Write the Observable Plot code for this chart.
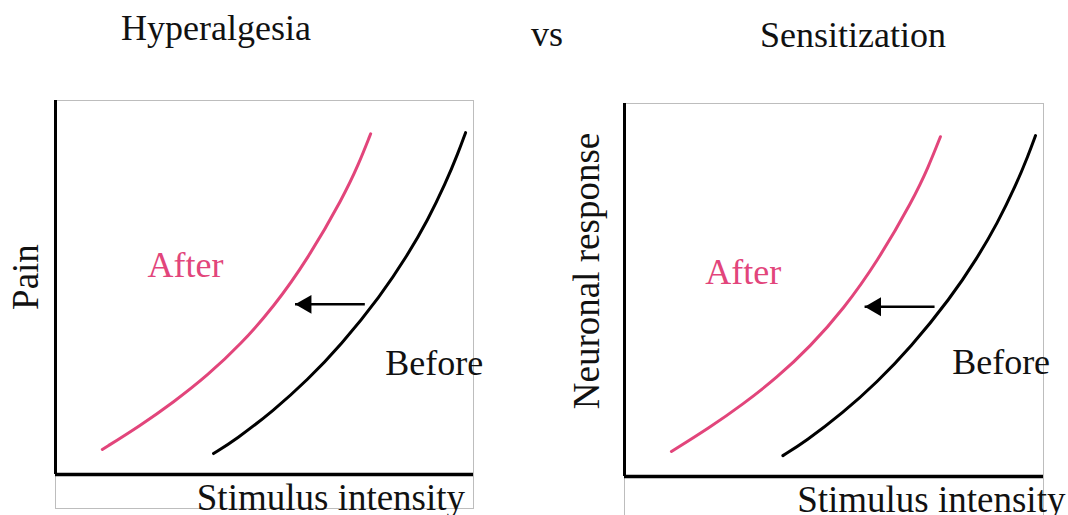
<!DOCTYPE html>
<html>
<head>
<meta charset="utf-8">
<script src="https://cdn.jsdelivr.net/npm/d3@7"></script>
<script src="https://cdn.jsdelivr.net/npm/@observablehq/plot@0.6"></script>
<style>
  html, body { margin: 0; padding: 0; background: #fff; overflow: hidden; }
  #root { position: relative; width: 1068px; height: 515px; overflow: hidden; background: #fff;
          font-family: "Liberation Serif", "Times New Roman", serif; }
  .title { position: absolute; font-size: 36px; line-height: 1; white-space: nowrap; color: #111; }
  .panel { position: absolute; }
</style>
</head>
<body>
<div id="root"></div>
<script>
// ---- data ----
const seriesNames = ["After", "Before"];
const stimulusAfter  = [11.2, 20.3, 28.2, 36.4, 44.3, 52.2, 60.3, 68.9, 72.5, 75.4];
const responseAfter  = [6.7, 13.1, 19.3, 26.5, 34.8, 44.8, 57.5, 74.3, 82.9, 91.1];
const stimulusBefore = [37.8, 43.1, 52.2, 60.3, 68.2, 77.8, 84.2, 89.0, 93.3, 96.4, 98.1];
const responseBefore = [5.6, 9.3, 17.1, 25.3, 34.5, 47.8, 58.6, 67.9, 77.8, 86.2, 91.4];
const shiftFrom = 74.0;   // stimulus where the shift arrow starts (Before side)
const shiftTo = 57.3;     // stimulus where it ends (After side)
const shiftLevel = 45.5;  // response level of the arrow
const panelTitles = ["Hyperalgesia", "Sensitization"];
const middleWord = "vs";
const yLabels = ["Pain", "Neuronal response"];
const xLabel = "Stimulus intensity";

// ---- build tables ----
const curves = [
  ...stimulusAfter.map((s, i) => ({series: seriesNames[0], stimulus: s, response: responseAfter[i]})),
  ...stimulusBefore.map((s, i) => ({series: seriesNames[1], stimulus: s, response: responseBefore[i]}))
];
const shift = [{from: shiftFrom, to: shiftTo, level: shiftLevel}];

const PINK = "#e2457b";
const INK = "#111";
const root = document.getElementById("root");

function addTitle(text, left, top) {
  const d = document.createElement("div");
  d.className = "title";
  d.textContent = text;
  d.style.left = left + "px";
  d.style.top = top + "px";
  root.appendChild(d);
}
addTitle(panelTitles[0], 121, 10);
addTitle(middleWord, 531, 16);
addTitle(panelTitles[1], 760, 17);

function panel(cfg) {
  const chart = Plot.plot({
    width: cfg.width,
    height: cfg.height,
    marginLeft: cfg.ml, marginRight: cfg.mr, marginTop: cfg.mt, marginBottom: cfg.mb,
    style: {fontFamily: '"Liberation Serif", "Times New Roman", serif', background: "transparent", overflow: "visible"},
    x: {domain: [0, 100], axis: null},
    y: {domain: [cfg.ymin, 100], axis: null},
    marks: [
      Plot.frame({stroke: "#bdbdbd", strokeWidth: 1}),
      Plot.ruleY([0], {stroke: "#000", strokeWidth: 3.5}),
      Plot.ruleX([0], {y1: 0, y2: 100, stroke: "#000", strokeWidth: 3}),
      Plot.line(curves.filter(d => d.series === seriesNames[0]), {x: "stimulus", y: "response",
        stroke: PINK, strokeWidth: 3, curve: "basis"}),
      Plot.line(curves.filter(d => d.series === seriesNames[1]), {x: "stimulus", y: "response",
        stroke: "#000", strokeWidth: 3, curve: "basis"}),
      Plot.link(shift, {x1: "from", x2: "to", y1: "level", y2: "level", stroke: "#000", strokeWidth: 2.5}),
      Plot.dot(shift, {x: "to", y: "level", symbol: "triangle", rotate: -90, r: 7, fill: "#000", stroke: null, dx: 11}),
      Plot.text([seriesNames[0]], {x: cfg.afterX, y: cfg.afterY, text: d => d, fill: PINK,
        fontSize: 36, textAnchor: "start", lineAnchor: "bottom"}),
      Plot.text([seriesNames[1]], {x: cfg.beforeX, y: cfg.beforeY, text: d => d, fill: INK,
        fontSize: 36, textAnchor: "start", lineAnchor: "bottom"}),
      Plot.text([cfg.yLabel], {x: cfg.ylabX, y: cfg.ylabY, text: d => d, fill: INK, rotate: -90,
        fontSize: 37, textAnchor: "middle", lineAnchor: "bottom"}),
      Plot.text([xLabel], {x: cfg.xlabX, y: cfg.xlabY, text: d => d, fill: INK,
        fontSize: 37, textAnchor: "start", lineAnchor: "bottom"})
    ]
  });
  chart.classList.add("panel");
  chart.style.left = cfg.left + "px";
  chart.style.top = cfg.top + "px";
  root.appendChild(chart);
}

panel({left: 0, top: 80, width: 540, height: 435, ml: 55, mr: 67, mt: 20, mb: 7, ymin: -9.09,
  afterX: 22.0, afterY: 52.7, beforeX: 78.9, beforeY: 26.5,
  yLabel: yLabels[0], ylabX: -4.3, ylabY: 52.8, xlabX: 33.8, xlabY: -9.4});

panel({left: 560, top: 80, width: 508, height: 440, ml: 64, mr: 25, mt: 23, mb: 2, ymin: -11.26,
  afterX: 19.3, afterY: 51.5, beforeX: 78.2, beforeY: 27.5,
  yLabel: yLabels[1], ylabX: -6.0, ylabY: 55.1, xlabX: 41.2, xlabY: -9.65});
</script>
</body>
</html>
